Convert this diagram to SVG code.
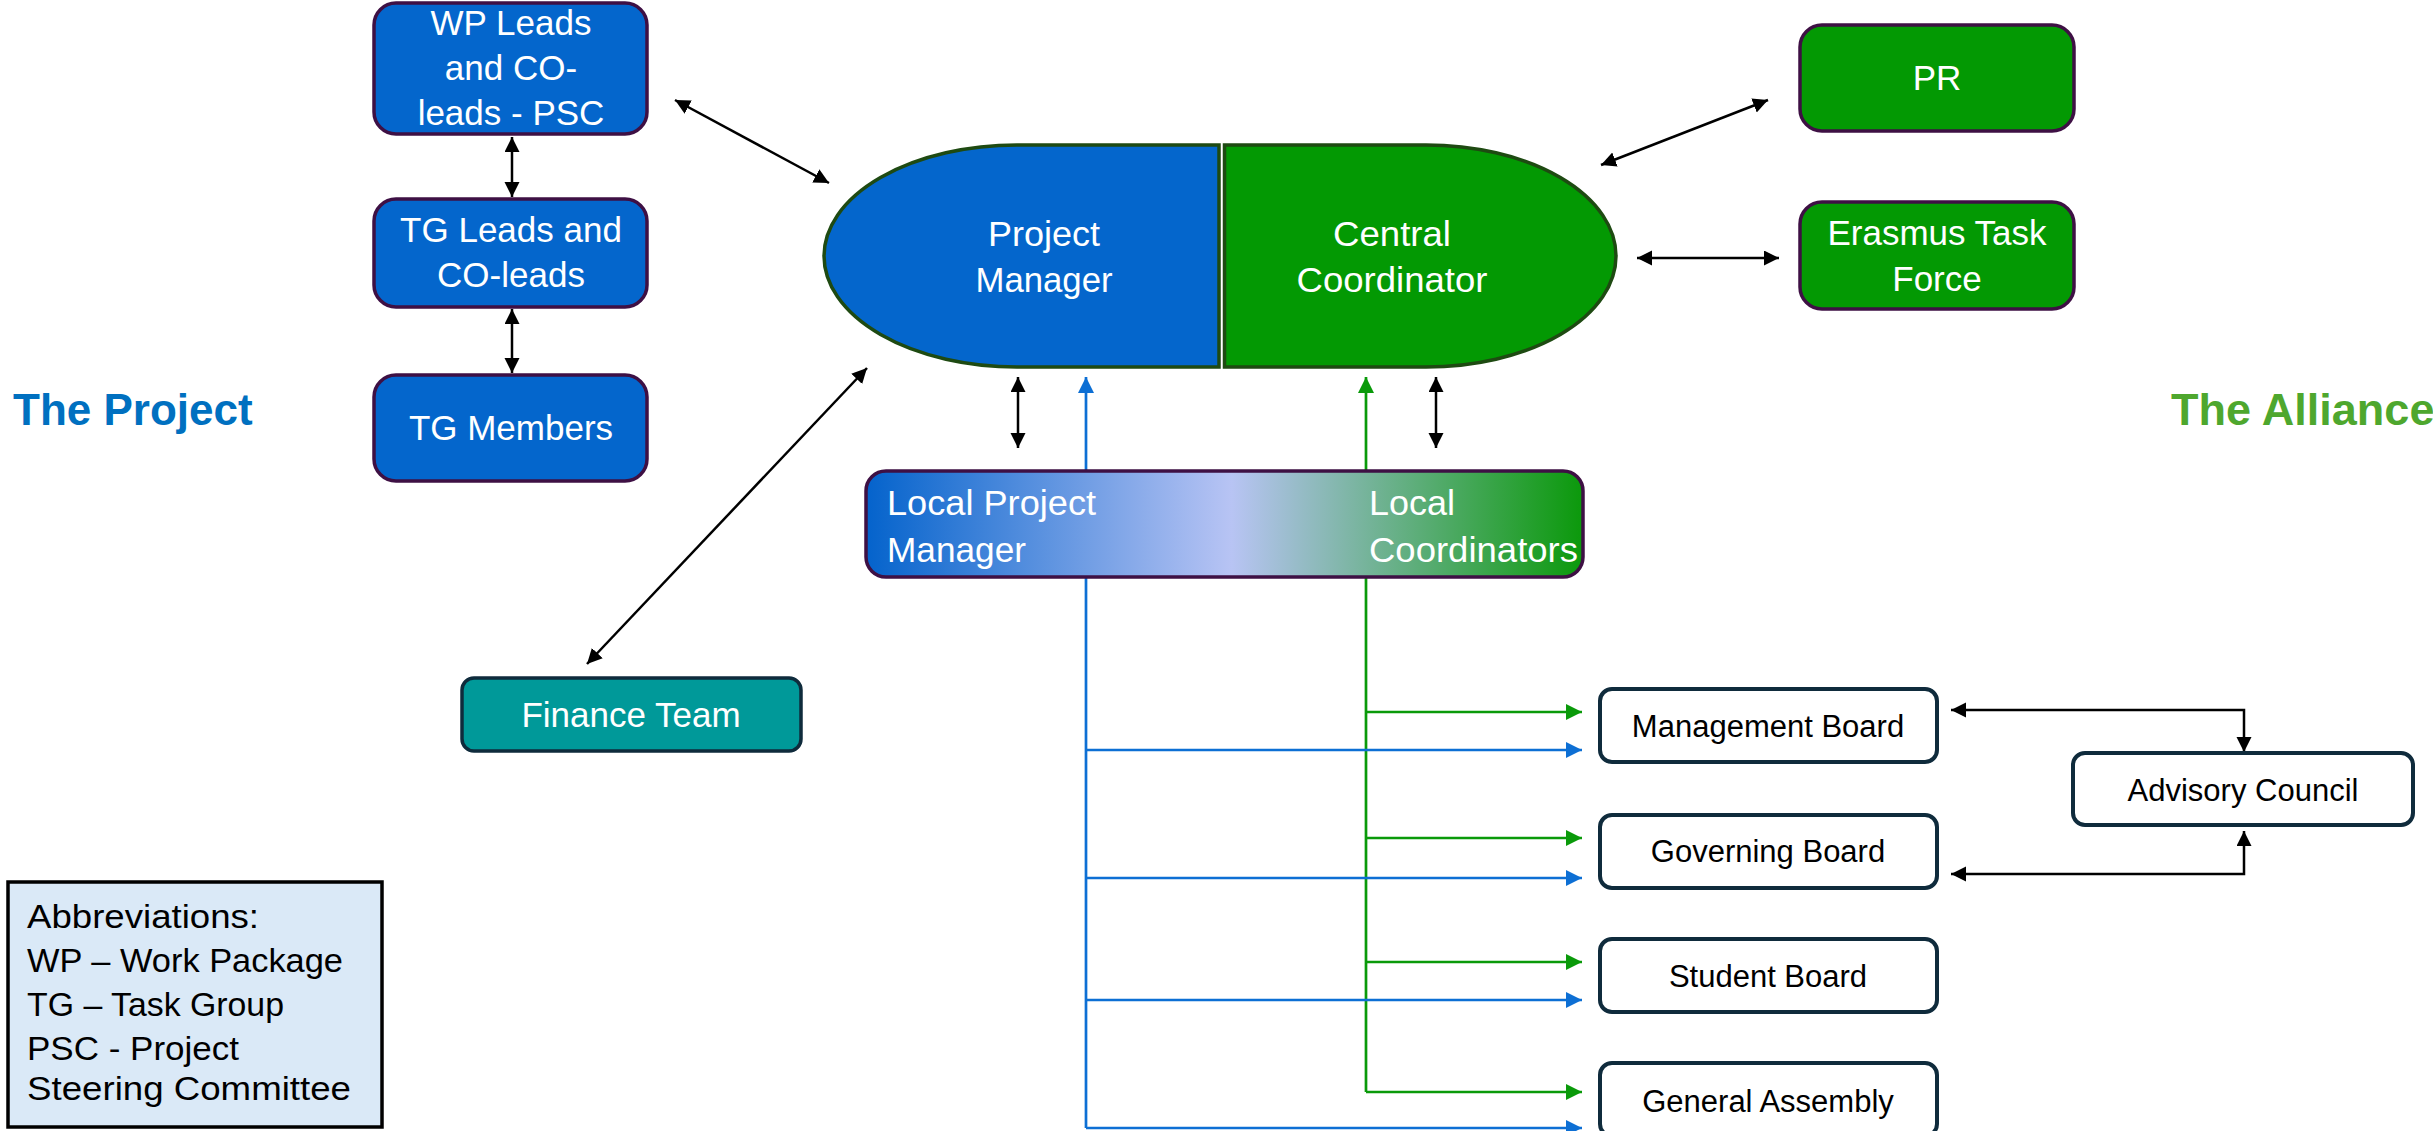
<svg xmlns="http://www.w3.org/2000/svg" width="2433" height="1131" viewBox="0 0 2433 1131">
<style>
text{font-family:"Liberation Sans",Arial,sans-serif}
.w{fill:#fff;font-size:35px;text-anchor:middle}
.wl{fill:#fff;font-size:35px}
.b{fill:#000;font-size:31px;text-anchor:middle}
.ab{fill:#000;font-size:34px}
.bluebox{fill:#0466CC;stroke:#3E1044;stroke-width:3.5}
.greenbox{fill:#039903;stroke:#3E1044;stroke-width:3.5}
.board{fill:#fff;stroke:#0F2B3C;stroke-width:4}
.blk{stroke:#000;stroke-width:2.5;fill:none;marker-start:url(#hk);marker-end:url(#hk)}
.bl{stroke:#0D6FD4;stroke-width:2.7;fill:none}
.gr{stroke:#0A9A0A;stroke-width:2.7;fill:none}
.bla{marker-end:url(#hb)}
.gra{marker-end:url(#hg)}
</style>
<defs>
<marker id="hk" markerUnits="userSpaceOnUse" markerWidth="16" markerHeight="16" refX="15" refY="7.5" orient="auto-start-reverse"><path d="M0,0 L15,7.5 L0,15 Z" fill="#000"/></marker>
<marker id="hb" markerUnits="userSpaceOnUse" markerWidth="17" markerHeight="17" refX="16" refY="8" orient="auto"><path d="M0,0 L16,8 L0,16 Z" fill="#0D6FD4"/></marker>
<marker id="hg" markerUnits="userSpaceOnUse" markerWidth="17" markerHeight="17" refX="16" refY="8" orient="auto"><path d="M0,0 L16,8 L0,16 Z" fill="#0A9A0A"/></marker>
<linearGradient id="lg" x1="0" y1="0" x2="1" y2="0">
<stop offset="0" stop-color="#0463CC"/>
<stop offset="0.51" stop-color="#B8C4F4"/>
<stop offset="1" stop-color="#0B990B"/>
</linearGradient>
</defs>

<text x="13" y="425" font-size="44" font-weight="bold" fill="#0070C0">The Project</text>
<text x="2171" y="425" font-size="45" font-weight="bold" fill="#4EA72E">The Alliance</text>

<g id="connectors">
<line class="blk" x1="512" y1="137" x2="512" y2="197"/>
<line class="blk" x1="512" y1="309" x2="512" y2="373"/>
<line class="blk" x1="675" y1="100" x2="829" y2="183"/>
<line class="blk" x1="587" y1="664" x2="867" y2="368"/>
<line class="blk" x1="1601" y1="165" x2="1768" y2="100"/>
<line class="blk" x1="1637" y1="258" x2="1779" y2="258"/>
<line class="blk" x1="1018" y1="377" x2="1018" y2="448"/>
<line class="blk" x1="1436" y1="377" x2="1436" y2="448"/>
<polyline class="blk" points="1951,710 2244,710 2244,752"/>
<polyline class="blk" points="1951,874 2244,874 2244,831"/>
<polyline class="gr gra" points="1366,1092 1366,377"/>
<line class="gr gra" x1="1366" y1="712" x2="1582" y2="712"/>
<line class="gr gra" x1="1366" y1="838" x2="1582" y2="838"/>
<line class="gr gra" x1="1366" y1="962" x2="1582" y2="962"/>
<line class="gr gra" x1="1366" y1="1092" x2="1582" y2="1092"/>
<polyline class="bl bla" points="1086,1128 1086,377"/>
<line class="bl bla" x1="1086" y1="750" x2="1582" y2="750"/>
<line class="bl bla" x1="1086" y1="878" x2="1582" y2="878"/>
<line class="bl bla" x1="1086" y1="1000" x2="1582" y2="1000"/>
<line class="bl bla" x1="1086" y1="1128" x2="1582" y2="1128"/>
</g>

<g id="wp-leads">
<rect class="bluebox" x="374" y="3" width="273" height="131" rx="22"/>
<text class="w" x="511" y="35">WP Leads</text>
<text class="w" x="511" y="80">and CO-</text>
<text class="w" x="511" y="125">leads - PSC</text>
</g>
<g id="tg-leads">
<rect class="bluebox" x="374" y="199" width="273" height="108" rx="22"/>
<text class="w" x="511" y="242">TG Leads and</text>
<text class="w" x="511" y="287">CO-leads</text>
</g>
<g id="tg-members">
<rect class="bluebox" x="374" y="375" width="273" height="106" rx="22"/>
<text class="w" x="511" y="440">TG Members</text>
</g>

<g id="project-manager">
<path d="M1219,145 L1017,145 A193,111 0 0 0 1017,367 L1219,367 Z" fill="#0466CC" stroke="#1E4A12" stroke-width="3.5"/>
<text class="w" x="1044" y="246" textLength="112" lengthAdjust="spacingAndGlyphs">Project</text>
<text class="w" x="1044" y="292" textLength="137" lengthAdjust="spacingAndGlyphs">Manager</text>
</g>
<g id="central-coordinator">
<path d="M1224.5,145 L1426,145 A190,111 0 0 1 1426,367 L1224.5,367 Z" fill="#039903" stroke="#1E4A12" stroke-width="3.5"/>
<text class="w" x="1392" y="246" textLength="118" lengthAdjust="spacingAndGlyphs">Central</text>
<text class="w" x="1392" y="292" textLength="191" lengthAdjust="spacingAndGlyphs">Coordinator</text>
</g>

<g id="pr">
<rect class="greenbox" x="1800" y="25" width="274" height="106" rx="22"/>
<text class="w" x="1937" y="90">PR</text>
</g>
<g id="erasmus">
<rect class="greenbox" x="1800" y="202" width="274" height="107" rx="22"/>
<text class="w" x="1937" y="245">Erasmus Task</text>
<text class="w" x="1937" y="291">Force</text>
</g>

<g id="local">
<rect x="866" y="471" width="717" height="106" rx="20" fill="url(#lg)" stroke="#3E1044" stroke-width="3.5"/>
<text class="wl" x="887" y="515" textLength="209" lengthAdjust="spacingAndGlyphs">Local Project</text>
<text class="wl" x="887" y="562" textLength="139" lengthAdjust="spacingAndGlyphs">Manager</text>
<text class="wl" x="1369" y="515" textLength="86" lengthAdjust="spacingAndGlyphs">Local</text>
<text class="wl" x="1369" y="562" textLength="209" lengthAdjust="spacingAndGlyphs">Coordinators</text>
</g>

<g id="finance">
<rect x="462" y="678" width="339" height="73" rx="12" fill="#009999" stroke="#0F2B3C" stroke-width="3.5"/>
<text class="w" x="631" y="727">Finance Team</text>
</g>

<g id="management-board">
<rect class="board" x="1600" y="689" width="337" height="73" rx="12"/>
<text class="b" x="1768" y="737">Management Board</text>
</g>
<g id="governing-board">
<rect class="board" x="1600" y="815" width="337" height="73" rx="12"/>
<text class="b" x="1768" y="862">Governing Board</text>
</g>
<g id="student-board">
<rect class="board" x="1600" y="939" width="337" height="73" rx="12"/>
<text class="b" x="1768" y="987">Student Board</text>
</g>
<g id="general-assembly">
<rect class="board" x="1600" y="1063" width="337" height="73" rx="12"/>
<text class="b" x="1768" y="1112">General Assembly</text>
</g>
<g id="advisory-council">
<rect class="board" x="2073" y="753" width="340" height="72" rx="12"/>
<text class="b" x="2243" y="801">Advisory Council</text>
</g>

<g id="abbreviations">
<rect x="8" y="882" width="374" height="245" fill="#DAE9F7" stroke="#000" stroke-width="3.5"/>
<text class="ab" x="27" y="928" textLength="232" lengthAdjust="spacingAndGlyphs">Abbreviations:</text>
<text class="ab" x="27" y="972" textLength="316" lengthAdjust="spacingAndGlyphs">WP – Work Package</text>
<text class="ab" x="27" y="1016" textLength="257" lengthAdjust="spacingAndGlyphs">TG – Task Group</text>
<text class="ab" x="27" y="1060" textLength="212" lengthAdjust="spacingAndGlyphs">PSC - Project</text>
<text class="ab" x="27" y="1100" textLength="324" lengthAdjust="spacingAndGlyphs">Steering Committee</text>
</g>
</svg>
